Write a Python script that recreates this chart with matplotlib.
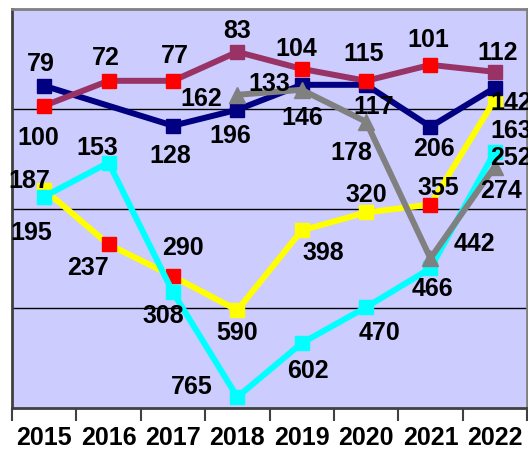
import numpy as np
import matplotlib
matplotlib.use('Agg')
import matplotlib.pyplot as plt

# 데이터 (그림에서 읽은 값, 격자 한 칸 = 1)
years = ['2015', '2016', '2017', '2018', '2019', '2020', '2021', '2022']
nan = np.nan

navy_y = [3.23, nan, 2.83, 2.99, 3.24, 3.24, 2.82, 3.21]
navy_lbl = ['79', '', '128', '196', '146', '117', '206', '142']

maroon_y = [3.03, 3.28, 3.28, 3.57, 3.40, 3.28, 3.44, 3.37]
maroon_lbl = ['100', '72', '77', '83', '104', '115', '101', '112']

gray_y = [nan, nan, nan, 3.14, 3.19, 2.87, 1.50, 2.42]
gray_lbl = ['', '', '', '162', '133', '178', '442', '274']

yellow_y = [2.19, 1.64, 1.32, 0.98, 1.78, 1.96, 2.04, 3.09]
yellow_lbl = ['187', '237', '290', '590', '398', '320', '355', '163']

cyan_y = [2.12, 2.46, 1.16, 0.11, 0.65, 1.01, 1.40, 2.57]
cyan_lbl = ['195', '153', '308', '765', '602', '470', '466', '252']

# 라벨 위치 (픽셀 오프셋)
navy_off = [(-3, 23), (0, 0), (-3, -29), (-7, -25), (1, -32), (8, -21), (3, -21), (16, -14)]
maroon_off = [(-6, -31), (-3, 24), (2, 26), (0, 22), (-5, 21), (-2, 28), (-2, 26), (3, 20)]
gray_off = [(0, 0), (0, 0), (0, 0), (-36, -3), (-32, 7), (-15, -30), (44, 15), (6, -23)]
yellow_off = [(-15, 10), (-21, -23), (10, 29), (0, -22), (22, -22), (0, 18), (8, 18), (16, -30)]
cyan_off = [(-13, -35), (-11, 16), (-10, -23), (-46, 11), (6, -27), (13, -25), (2, -20), (16, -5)]

# 점마다 다른 마커색
maroon_mc = ['red', 'red', 'red', '#993366', 'red', 'red', 'red', '#993366']
yellow_mc = ['yellow', 'red', 'red', 'yellow', 'yellow', 'yellow', 'red', 'yellow']

plt.rcParams['font.family'] = ['Liberation Sans', 'DejaVu Sans']
plt.rcParams['font.weight'] = 'bold'

fig = plt.figure(figsize=(5.28, 4.52), dpi=100)
ax = fig.add_axes([12 / 528, 43 / 452, 515 / 528, 399 / 452])
ax.set_facecolor('#CCCCFF')

x = np.arange(len(years))
lw = 4.3
ms = 10.5


def draw_series(y, color, marker, mcolors, labels, offs, z, msize=ms):
    y = np.array(y, dtype=float)
    ok = ~np.isnan(y)
    ax.plot(x[ok], y[ok], color=color, lw=lw, zorder=z, solid_joinstyle='miter')
    for i in np.where(ok)[0]:
        ax.plot(x[i], y[i], marker=marker, ms=msize, color=mcolors[i],
                markeredgecolor=mcolors[i], zorder=z + 0.5, linestyle='none')
        if labels[i]:
            ax.annotate(labels[i], (x[i], y[i]), xytext=offs[i], textcoords='offset pixels',
                        ha='center', va='center', fontsize=18, fontweight='bold',
                        color='black', zorder=20, annotation_clip=False)


draw_series(yellow_y, '#FFFF00', 's', yellow_mc, yellow_lbl, yellow_off, 3)
draw_series(cyan_y, '#00FFFF', 's', ['#00FFFF'] * 8, cyan_lbl, cyan_off, 4)
draw_series(navy_y, '#000080', 's', ['#000080'] * 8, navy_lbl, navy_off, 5)
draw_series(maroon_y, '#993366', 's', maroon_mc, maroon_lbl, maroon_off, 6)
draw_series(gray_y, '#808080', '^', ['#808080'] * 8, gray_lbl, gray_off, 7, msize=12)

ax.set_xlim(-0.5, len(years) - 0.5)
ax.set_ylim(0, 4)

ax.set_yticks([1, 2, 3])
ax.yaxis.grid(True, color='black', lw=1)
ax.set_axisbelow(True)
ax.tick_params(axis='y', length=0, labelleft=False)

ax.set_xticks(np.arange(-0.5, len(years), 1))
ax.set_xticklabels([])
ax.set_xticks(x, minor=True)
ax.set_xticklabels(years, minor=True, fontsize=18, fontweight='bold')
ax.tick_params(axis='x', which='major', length=9, width=1.5, color='#404040', direction='out')
ax.tick_params(axis='x', which='minor', length=0, pad=12)

for s in ['left', 'bottom']:
    ax.spines[s].set_color('#404040')
    ax.spines[s].set_linewidth(2)
for s in ['top', 'right']:
    ax.spines[s].set_color('#808080')
    ax.spines[s].set_linewidth(2)

plt.savefig('out.png', dpi=100)
